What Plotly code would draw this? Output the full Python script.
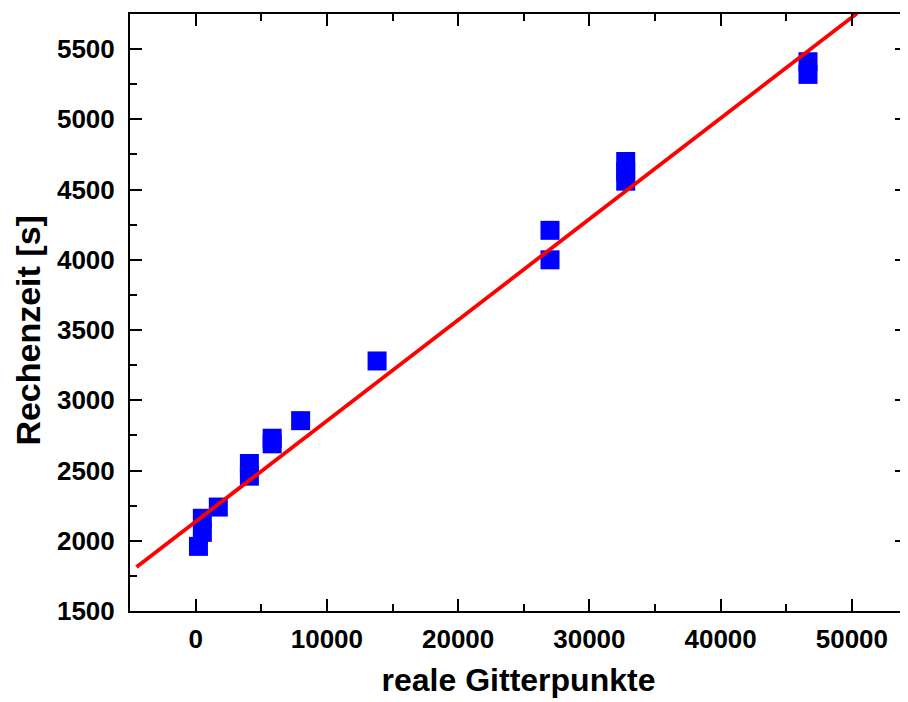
import plotly.graph_objects as go

# measured data (real grid points vs. computation time)
grid_points = [216, 512, 512, 1728, 4096, 4096, 5832, 5832, 8000, 13824,
               27000, 27000, 32768, 32768, 32768, 46656, 46656]
runtime_s = [1960, 2060, 2160, 2240, 2460, 2550, 2690, 2730, 2855, 3280,
             4000, 4210, 4560, 4630, 4700, 5320, 5410]

# linear fit line endpoints
fit_x = [-4500, 50400]
fit_y = [1813, 5755]

x_ticks = [0, 10000, 20000, 30000, 40000, 50000]
y_ticks = [1500, 2000, 2500, 3000, 3500, 4000, 4500, 5000, 5500]

x_title = "reale Gitterpunkte"
y_title = "Rechenzeit [s]"

FONT = "Liberation Sans, Arial, sans-serif"

fig = go.Figure()
fig.add_trace(go.Scatter(
    x=grid_points, y=runtime_s, mode="markers",
    marker=dict(symbol="square", size=19, color="#0000ff",
                line=dict(width=0)),
    showlegend=False, cliponaxis=False))
fig.add_trace(go.Scatter(
    x=fit_x, y=fit_y, mode="lines",
    line=dict(color="#ff0000", width=3.8),
    showlegend=False))

axis_common = dict(
    showgrid=False, zeroline=False, showline=True, linecolor="black",
    linewidth=2, mirror="ticks", ticks="inside", ticklen=12, tickwidth=2,
    tickcolor="black", automargin=False,
    tickfont=dict(family=FONT, size=26, color="black", weight="bold"),
)

# page body has an 8px margin, so the figure is sized to fit the window
fig.update_layout(
    width=900, height=694,
    margin=dict(l=122, r=1, t=6, b=91),
    paper_bgcolor="white", plot_bgcolor="white",
    xaxis=dict(range=[-5000, 54200], tickvals=x_ticks,
               ticktext=[str(v) for v in x_ticks],
               ticklabelstandoff=4,
               minor=dict(ticks="inside", ticklen=7, tickwidth=2,
                          tickcolor="black", dtick=5000, tick0=0),
               title=dict(text=x_title, standoff=15,
                          font=dict(family=FONT, size=32, color="black",
                                    weight="bold")),
               **axis_common),
    yaxis=dict(range=[1500, 5750], tickvals=y_ticks,
               ticktext=[str(v) for v in y_ticks],
               ticklabelstandoff=8,
               minor=dict(ticks="inside", ticklen=7, tickwidth=2,
                          tickcolor="black", dtick=250, tick0=1500),
               **axis_common),
    annotations=[dict(
        text=y_title, textangle=-90, showarrow=False,
        xref="paper", yref="paper", x=-0.131, y=0.47,
        xanchor="center", yanchor="middle",
        font=dict(family=FONT, size=34, color="black", weight="bold"))],
)

fig.write_html("out.html")
